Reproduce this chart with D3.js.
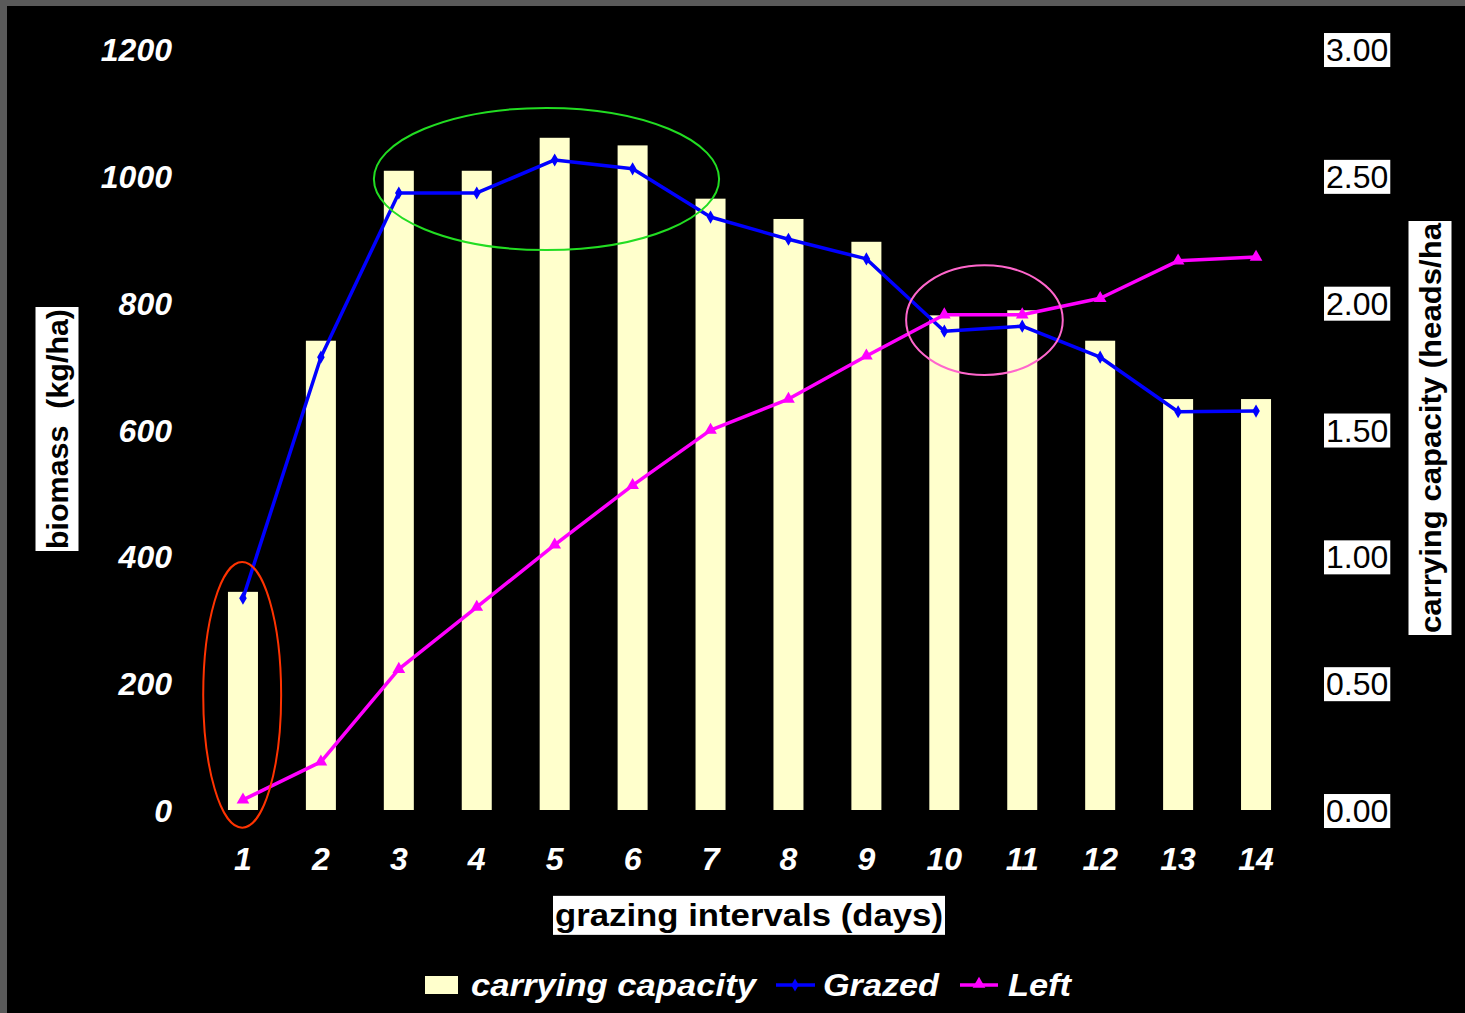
<!DOCTYPE html>
<html><head><meta charset="utf-8">
<script src="https://cdn.jsdelivr.net/npm/d3@7"></script>
<style>
html,body{margin:0;padding:0;background:#5a5a5a;}
svg{display:block;}
</style></head>
<body>
<script>
const categories = ["1","2","3","4","5","6","7","8","9","10","11","12","13","14"];
const carryingCapacity = [0.86,1.85,2.52,2.52,2.65,2.62,2.41,2.33,2.24,1.95,1.97,1.85,1.62,1.62];
const grazed = [334,714,973,973,1025,1011,935,900,869,755,763,714,628,629];
const left = [16,76,222,320,418,512,599,648,716,781,781,807,866,872];
const leftTicks = [0,200,400,600,800,1000,1200];
const rightTicks = [0,0.5,1,1.5,2,2.5,3];
// annotation ellipses: category position span (1 = first category) and left-axis value span
const ellipses = [
  {x0:0.49, x1:1.49, y0:-28, y1:391, color:"#ff3300"},
  {x0:2.68, x1:7.11, y0:883, y1:1107, color:"#22dd22"},
  {x0:9.51, x1:11.52, y0:686, y1:859, color:"#ff66cc"}
];

const W=1465,H=1013;
const svg=d3.select("body").append("svg").attr("width",W).attr("height",H);
svg.append("rect").attr("x",7).attr("y",6).attr("width",W-7).attr("height",H-6).attr("fill","#000");

const x=d3.scaleBand().domain(categories).range([204,1295]).paddingInner(0.615).paddingOuter(0.3075);
const yL=d3.scaleLinear().domain([0,1200]).range([810,49]);
const yR=d3.scaleLinear().domain([0,3]).range([810,49]);
const xc=c=>x(c)+x.bandwidth()/2;
const pos=p=>xc(categories[0])+(p-1)*x.step();

const font='"Liberation Sans", Arial, sans-serif';

// bars
svg.append("g").selectAll("rect").data(categories).join("rect")
  .attr("x",d=>x(d)).attr("width",x.bandwidth())
  .attr("y",(d,i)=>yR(carryingCapacity[i])).attr("height",(d,i)=>yR(0)-yR(carryingCapacity[i]))
  .attr("fill","#ffffcc");

// lines
function drawLine(vals,color,marker){
  const line=d3.line().x((d,i)=>xc(categories[i])).y(d=>yL(d));
  svg.append("path").datum(vals).attr("d",line).attr("fill","none").attr("stroke",color).attr("stroke-width",3.5).attr("stroke-linejoin","round");
  const sym=d3.symbol().type(marker).size(marker===d3.symbolDiamond?50:70);
  svg.append("g").selectAll("path").data(vals).join("path")
    .attr("d",sym).attr("fill",color)
    .attr("transform",(d,i)=>`translate(${xc(categories[i])},${yL(d)})`);
}
drawLine(grazed,"#0000ff",d3.symbolDiamond);
drawLine(left,"#ff00ff",d3.symbolTriangle);

// ellipses
svg.append("g").selectAll("ellipse").data(ellipses).join("ellipse")
  .attr("cx",d=>(pos(d.x0)+pos(d.x1))/2).attr("cy",d=>(yL(d.y0)+yL(d.y1))/2)
  .attr("rx",d=>(pos(d.x1)-pos(d.x0))/2).attr("ry",d=>(yL(d.y0)-yL(d.y1))/2)
  .attr("fill","none").attr("stroke",d=>d.color).attr("stroke-width",2);

// left axis
const gL=svg.append("g").attr("transform","translate(172,0)")
  .call(d3.axisLeft(yL).tickValues(leftTicks).tickFormat(d3.format("d")).tickSize(0).tickPadding(0));
gL.select(".domain").remove();
gL.selectAll("text").attr("fill","#fff").style("font",`italic bold 32px ${font}`).attr("dy","0.36em");

// x axis
const gX=svg.append("g").attr("transform","translate(0,847)")
  .call(d3.axisBottom(x).tickSize(0).tickPadding(0));
gX.select(".domain").remove();
gX.selectAll("text").attr("fill","#fff").style("font",`italic bold 32px ${font}`).attr("dy","0.72em");

// right axis
const gR=svg.append("g").attr("transform","translate(1326,0)")
  .call(d3.axisRight(yR).tickValues(rightTicks).tickFormat(d3.format(".2f")).tickSize(0).tickPadding(0));
gR.select(".domain").remove();
gR.selectAll(".tick").each(function(){
  const t=d3.select(this).select("text").attr("fill","#000").style("font",`32px ${font}`).attr("dy","0.36em");
  const b=t.node().getBBox();
  d3.select(this).insert("rect","text").attr("x",b.x-2).attr("y",b.y+1).attr("width",b.width+4).attr("height",b.height-2).attr("fill","#fff");
});

function boxedText(txt,cx,cy,rot,size,padX,padY,len){
  const g=svg.append("g").attr("transform",`translate(${cx},${cy}) rotate(${rot})`);
  const t=g.append("text").text(txt).attr("text-anchor","middle").attr("dy","0.35em")
    .attr("fill","#000").style("font",`bold ${size}px ${font}`).style("white-space","pre")
    .attr("textLength",len).attr("lengthAdjust","spacingAndGlyphs");
  const b=t.node().getBBox();
  g.insert("rect","text").attr("x",-len/2-padX).attr("y",b.y-padY).attr("width",len+2*padX).attr("height",b.height+2*padY).attr("fill","#fff");
}
boxedText("biomass  (kg/ha)",57,429,-90,30,2,5,240);
boxedText("carrying capacity (heads/ha",1430,428,-90,30,2,5,410);
boxedText("grazing intervals (days)",749,915,0,31,2,2,388);

// legend
const lg=svg.append("g");
const lf=`italic bold 32px ${font}`;
function ltext(t,xp,len){
  lg.append("text").attr("x",xp).attr("y",996).text(t).attr("fill","#fff").style("font",lf)
    .attr("textLength",len).attr("lengthAdjust","spacingAndGlyphs");
}
lg.append("rect").attr("x",425).attr("y",976).attr("width",33).attr("height",18).attr("fill","#ffffcc");
ltext("carrying capacity",471,285);
lg.append("line").attr("x1",776).attr("x2",815).attr("y1",985).attr("y2",985).attr("stroke","#0000ff").attr("stroke-width",3.5);
lg.append("path").attr("d",d3.symbol().type(d3.symbolDiamond).size(50)).attr("transform","translate(795,985)").attr("fill","#0000ff");
ltext("Grazed",823,116);
lg.append("line").attr("x1",960).attr("x2",998).attr("y1",985).attr("y2",985).attr("stroke","#ff00ff").attr("stroke-width",3.5);
lg.append("path").attr("d",d3.symbol().type(d3.symbolTriangle).size(70)).attr("transform","translate(979,984)").attr("fill","#ff00ff");
ltext("Left",1008,63);
</script>
</body></html>
